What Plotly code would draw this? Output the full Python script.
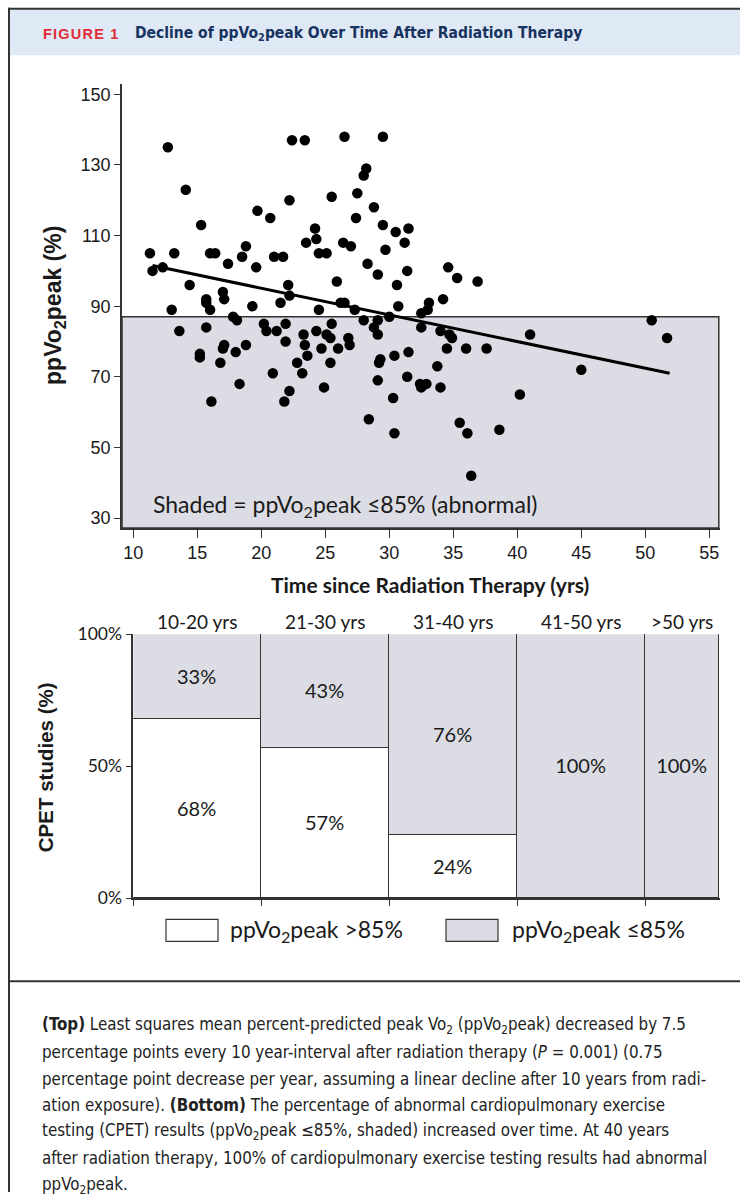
import plotly.graph_objects as go

# ---------------- data ----------------
time_yrs = [
    11.3, 11.5, 12.3, 12.7, 13.2, 13.0, 14.1, 14.4, 15.3, 15.7, 15.7, 16.0, 16.0, 16.4,
    17.0, 17.1, 17.4, 17.8, 18.1, 18.5, 18.8, 19.3, 19.6, 19.7, 20.7, 21.0, 21.7, 21.5,
    22.1, 22.2, 22.2, 22.4, 23.4, 23.5, 24.2, 24.3, 24.5, 25.1, 24.5, 25.5, 25.9, 26.2,
    26.5, 26.4, 27.0, 26.5, 27.3, 27.4, 27.5, 28.0, 28.2, 28.8, 28.3, 29.1, 29.5, 29.7,
    29.5, 30.5, 30.6, 30.7, 30.0, 31.5, 31.2, 31.4, 34.6, 35.3, 36.9, 33.1, 34.2, 33.0,
    32.5,
    13.6, 15.7, 15.2, 15.2, 16.8, 16.1, 17.0, 17.1, 18.0, 18.3, 18.8, 20.2, 20.4, 21.2,
    21.9, 21.9, 20.9, 21.8, 22.2, 22.8, 23.2, 23.3, 23.4, 23.6, 24.3, 24.7, 24.9, 25.1,
    25.4, 25.4, 25.5, 26.0, 26.8, 26.9, 28.0, 28.8, 29.1, 29.1, 29.3, 29.2, 29.1, 28.4,
    30.3, 30.4, 30.4, 31.5, 32.5, 34.0, 34.7, 34.9, 34.5, 36.0, 37.6, 33.75, 31.4, 32.4,
    32.9, 32.5, 34.0, 35.5, 36.1, 38.6, 36.4, 40.2, 41.0, 45.0, 50.5, 51.7,
]
ppvo2 = [
    105, 100, 101, 135, 105, 89, 123, 96, 113, 92, 91, 89, 105, 105,
    94, 92, 102, 87, 86, 104, 107, 90, 101, 117, 115, 104, 104, 91,
    96, 93, 120, 137, 137, 108, 112, 109, 105, 105, 89, 121, 97, 91,
    91, 108, 107, 138, 89, 115, 122, 127, 129, 118, 102, 99, 113, 106,
    138, 111, 96, 90, 87, 112, 108, 100, 101, 98, 97, 91, 92, 89,
    88,
    83, 84, 75.5, 76.5, 74, 63, 78, 79, 77, 68, 79, 85, 83, 83,
    85, 80, 71, 63, 66, 74, 71, 82, 79, 76, 83, 78, 67, 82,
    81, 74, 85, 78, 81, 79, 86, 84, 82, 86, 75, 74, 69, 58,
    64, 54, 76, 77, 84, 83, 82, 81, 78, 78, 78, 73, 70, 68,
    68, 67, 67, 57, 54, 55, 42, 65, 82, 72, 86, 81,
]
fit_x = [11.5, 51.9]
fit_y = [101.5, 71.0]
abnormal_cutoff = 87
x_ticks = [10, 15, 20, 25, 30, 35, 40, 45, 50, 55]
y_ticks = [30, 50, 70, 90, 110, 130, 150]

groups = ["10-20 yrs", "21-30 yrs", "31-40 yrs", "41-50 yrs", ">50 yrs"]
group_edges = [10, 20, 30, 40, 50, 55.8]
normal_pct = [68, 57, 24, 0, 0]
abnormal_pct = [33, 43, 76, 100, 100]
pct_ticks = [0, 50, 100]
pct_tick_labels = ["0%", "50%", "100%"]

caption_lines = [
    "<b>(Top)</b> Least squares mean percent-predicted peak Vo<sub>2</sub> (ppVo<sub>2</sub>peak) decreased by 7.5",
    "percentage points every 10 year-interval after radiation therapy (<i>P</i> = 0.001) (0.75",
    "percentage point decrease per year, assuming a linear decline after 10 years from radi-",
    "ation exposure). <b>(Bottom)</b> The percentage of abnormal cardiopulmonary exercise",
    "testing (CPET) results (ppVo<sub>2</sub>peak \u226485%, shaded) increased over time. At 40 years",
    "after radiation therapy, 100% of cardiopulmonary exercise testing results had abnormal",
    "ppVo<sub>2</sub>peak.",
]

# ---------------- layout helpers ----------------
W, H = 740, 1202
V_OFF, V_SCALE = 10.2, 0.982   # observed vertical placement correction


def px(x):
    return x / W


def py(y):
    yd = (y - V_OFF) / V_SCALE
    return 1 - yd / H


GREY = "#dcdde4"
LINE = "#333333"
TXT = "#1a1a1a"
ARIAL = "Liberation Sans, Arial, sans-serif"
HUMAN = "Lato, Open Sans, sans-serif"
COND = "Liberation Sans Narrow, DejaVu Sans Condensed, Roboto, sans-serif"

# pixel calibration of the scatter axes
X10_PX, PX_PER_YR = 133.3, 12.8
Y150_PX, PX_PER_PCT = 93.5, 3.529
x_lo = 10 - (X10_PX - 122) / PX_PER_YR
x_hi = 10 + (720 - X10_PX) / PX_PER_YR
y_lo = 150 - (527 - Y150_PX) / PX_PER_PCT
y_hi = 150 - (83 - Y150_PX) / PX_PER_PCT

fig = go.Figure()

fig.add_trace(go.Scatter(
    x=time_yrs, y=ppvo2, mode="markers",
    marker=dict(size=10.5, color="black"),
    xaxis="x", yaxis="y", showlegend=False, hoverinfo="x+y"))
fig.add_trace(go.Scatter(
    x=fit_x, y=fit_y, mode="lines",
    line=dict(color="black", width=3),
    xaxis="x", yaxis="y", showlegend=False))

mids = [(a + b) / 2 for a, b in zip(group_edges[:-1], group_edges[1:])]
widths = [b - a for a, b in zip(group_edges[:-1], group_edges[1:])]
fig.add_trace(go.Bar(
    x=mids, y=normal_pct, width=widths,
    marker=dict(color="white",
                line=dict(color=LINE, width=[1.5 if v else 0 for v in normal_pct])),
    text=[f"{v}%" if v else "" for v in normal_pct],
    textposition="inside", insidetextanchor="middle", textangle=0,
    textfont=dict(family=HUMAN, size=20, color=TXT),
    xaxis="x2", yaxis="y2", showlegend=False))
fig.add_trace(go.Bar(
    x=mids, y=[100 - v for v in normal_pct], width=widths,
    marker=dict(color=GREY, line=dict(color=LINE, width=1.5)),
    text=[f"{v}%" for v in abnormal_pct],
    textposition="inside", insidetextanchor="middle", textangle=0,
    textfont=dict(family=HUMAN, size=20, color=TXT),
    xaxis="x2", yaxis="y2", showlegend=False))

shapes = [
    # header band and frame
    dict(type="rect", xref="paper", yref="paper", x0=px(9), x1=1, y0=py(54.5), y1=py(8),
         fillcolor="#dfe9f5", line=dict(width=0), layer="below"),
    dict(type="line", xref="paper", yref="paper", x0=px(8), x1=1, y0=py(8), y1=py(8),
         line=dict(color=LINE, width=2)),
    dict(type="line", xref="paper", yref="paper", x0=px(9), x1=px(9), y0=py(7), y1=0,
         line=dict(color=LINE, width=2)),
    dict(type="line", xref="paper", yref="paper", x0=px(8), x1=1, y0=py(980), y1=py(980),
         line=dict(color=LINE, width=2)),
    # shaded abnormal zone
    dict(type="rect", xref="x domain", yref="y", x0=0, x1=0.998, y0=y_lo, y1=abnormal_cutoff,
         fillcolor=GREY, line=dict(color=LINE, width=1.5), layer="below"),
    # legend boxes
    dict(type="rect", xref="paper", yref="paper", x0=px(166), x1=px(218), y0=py(940), y1=py(918),
         fillcolor="white", line=dict(color=LINE, width=1.2)),
    dict(type="rect", xref="paper", yref="paper", x0=px(446), x1=px(498), y0=py(940), y1=py(918),
         fillcolor=GREY, line=dict(color=LINE, width=1.2)),
]

ann = []
ann.append(dict(text="<b>F\u200aI\u200aG\u200aU\u200aR\u200aE\u200a \u200a1</b>", x=px(41), y=py(33),
                xanchor="left", yanchor="middle", font=dict(family=ARIAL, size=14.5, color="#e32b33")))
ann.append(dict(text="<b>Decline of ppVo<sub>2</sub>peak Over Time After Radiation Therapy</b>",
                x=px(133), y=py(33), xanchor="left", yanchor="middle",
                font=dict(family=COND, size=15.5, color="#17335f")))
ann.append(dict(text="<b>ppVo<sub>2</sub>peak (%)</b>", x=px(55), y=py(305), textangle=-90,
                xanchor="center", yanchor="middle", font=dict(family=ARIAL, size=23, color=TXT)))
ann.append(dict(text="<b>Time since Radiation Therapy (yrs)</b>", x=px(430), y=py(583),
                xanchor="center", yanchor="middle", font=dict(family=HUMAN, size=21, color=TXT)))
ann.append(dict(text="Shaded = ppVo<sub>2</sub>peak \u226485% (abnormal)", x=px(151), y=py(504),
                xanchor="left", yanchor="middle", font=dict(family=HUMAN, size=23, color=TXT)))
for g, m in zip(groups, mids):
    ann.append(dict(text=g, x=m, xref="x2", y=py(620), yref="paper", xanchor="center",
                    yanchor="middle", font=dict(family=HUMAN, size=19, color=TXT)))
ann.append(dict(text="<b>CPET studies (%)</b>", x=px(45), y=py(766), textangle=-90,
                xanchor="center", yanchor="middle", font=dict(family=ARIAL, size=20.5, color=TXT)))
ann.append(dict(text="ppVo<sub>2</sub>peak >85%", x=px(228), y=py(929), xanchor="left",
                yanchor="middle", font=dict(family=HUMAN, size=23, color=TXT)))
ann.append(dict(text="ppVo<sub>2</sub>peak \u226485%", x=px(510), y=py(929), xanchor="left",
                yanchor="middle", font=dict(family=HUMAN, size=23, color=TXT)))
for i, line in enumerate(caption_lines):
    ann.append(dict(text=line, x=px(40), y=py(1024 + 26.6 * i), xanchor="left", yanchor="middle",
                    font=dict(family=COND, size=16.8, color="#222222")))
for a in ann:
    a.setdefault("xref", "paper")
    a.setdefault("yref", "paper")
    a["showarrow"] = False

axis_common = dict(showgrid=False, zeroline=False, showline=True, linecolor=LINE, linewidth=1.5,
                   ticks="outside", tickcolor=LINE, tickwidth=1.2)

fig.update_layout(
    width=W, height=H, margin=dict(l=0, r=0, t=0, b=0),
    paper_bgcolor="white", plot_bgcolor="rgba(0,0,0,0)",
    barmode="stack", bargap=0,
    xaxis=dict(domain=[px(122), px(720)], range=[x_lo, x_hi], tickvals=x_ticks, ticklen=8,
               tickfont=dict(family=ARIAL, size=18, color=TXT), anchor="y", **axis_common),
    yaxis=dict(domain=[py(527), py(83)], range=[y_lo, y_hi], tickvals=y_ticks, ticklen=6,
               tickfont=dict(family=ARIAL, size=18, color=TXT), anchor="x", **axis_common),
    xaxis2=dict(domain=[px(X10_PX), px(720)], range=[10, x_hi], tickvals=group_edges[:-1],
                showticklabels=False, ticklen=6, anchor="y2", **axis_common),
    yaxis2=dict(domain=[py(897), py(633)], range=[0, 100], tickvals=pct_ticks,
                ticktext=pct_tick_labels, ticklen=6,
                tickfont=dict(family=HUMAN, size=17.5, color=TXT), anchor="x2", **axis_common),
    shapes=shapes, annotations=ann,
)

fig.write_html(
    "out.html",
    config={"displayModeBar": False},
    post_script="document.body.style.margin='0';document.body.style.overflow='hidden';",
)
